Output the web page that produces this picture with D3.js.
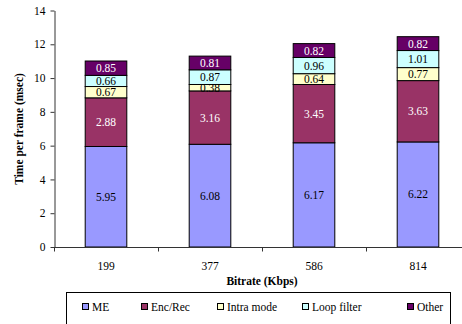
<!DOCTYPE html>
<html><head><meta charset="utf-8">
<script src="https://cdn.jsdelivr.net/npm/d3@7"></script>
<style>body{margin:0;background:#fff}svg{display:block}svg text{font-family:"Liberation Serif","Times New Roman",serif !important}</style>
</head><body><svg id="c" width="462" height="324"></svg>
<script>
const categories = ["199","377","586","814"];
const seriesNames = ["ME","Enc/Rec","Intra mode","Loop filter","Other"];
const me = [5.95,6.08,6.17,6.22];
const encRec = [2.88,3.16,3.45,3.63];
const intra = [0.67,0.38,0.64,0.77];
const loop = [0.66,0.87,0.96,1.01];
const other = [0.85,0.81,0.82,0.82];
const yTicks = [0,2,4,6,8,10,12,14];
const colors = ["#9999FF","#993366","#FFFFCC","#CCFFFF","#660066"];
const labelColors = ["#000","#fff","#000","#000","#fff"];

const seriesVals = [me,encRec,intra,loop,other];
const rows = categories.map((c,i)=>{const o={cat:c};seriesNames.forEach((s,j)=>o[s]=seriesVals[j][i]);return o;});
const stack = d3.stack().keys(seriesNames)(rows);

const svg = d3.select("#c");
const x = d3.scaleBand().domain(categories).range([54,470]).paddingInner(0.6).paddingOuter(0.3);
const y = d3.scaleLinear().domain([0,14]).range([247,10.5]);

stack.forEach((layer,j)=>{
  const g = svg.append("g");
  g.selectAll("rect").data(layer).join("rect")
    .attr("x",d=>x(d.data.cat)).attr("width",x.bandwidth())
    .attr("y",d=>y(d[1])).attr("height",d=>y(d[0])-y(d[1]))
    .attr("fill",colors[j]).attr("stroke","#000").attr("stroke-width",1);
  g.selectAll("text").data(layer).join("text")
    .attr("x",d=>x(d.data.cat)+x.bandwidth()/2)
    .attr("y",d=>(y(d[0])+y(d[1]))/2)
    .attr("dy","0.35em").attr("text-anchor","middle")
    .attr("font-family","Liberation Serif")
    .attr("font-size",11.5).attr("fill",labelColors[j])
    .text(d=>(d[1]-d[0]).toFixed(2));
});

const ya = svg.append("g").attr("transform","translate(54.5,0)")
  .call(d3.axisLeft(y).tickValues(yTicks).tickSize(4).tickSizeOuter(0).tickPadding(5));
ya.attr("font-family","Liberation Serif");
ya.selectAll("text").attr("font-size",11.5).attr("fill","#000");
ya.selectAll("line,path").attr("stroke","#333");

const xa = svg.append("g").attr("transform","translate(0,247.5)").attr("font-family","Liberation Serif");
xa.append("line").attr("x1",54).attr("x2",470).attr("stroke","#333");
const bounds = categories.map((c,i)=>54 + i*(416/categories.length));
xa.selectAll(".t").data(bounds).join("line").attr("x1",d=>d+0.5).attr("x2",d=>d+0.5).attr("y1",0).attr("y2",4).attr("stroke","#333");
xa.selectAll("text").data(categories).join("text")
  .attr("x",d=>x(d)+x.bandwidth()/2).attr("y",22).attr("text-anchor","middle")
  .attr("font-size",11.5).text(d=>d);

svg.append("text").attr("x",262).attr("y",285).attr("text-anchor","middle").attr("font-family","Liberation Serif")
  .attr("font-size",11.5).attr("font-weight","bold").text("Bitrate (Kbps)");
svg.append("text").attr("transform","translate(23,129) rotate(-90)").attr("text-anchor","middle").attr("font-family","Liberation Serif")
  .attr("font-size",11.5).attr("font-weight","bold").text("Time per frame (msec)");

svg.append("rect").attr("x",66.5).attr("y",292.5).attr("width",384).attr("height",40)
  .attr("fill","#fff").attr("stroke","#000");
const lx = [82,141,217,302,407];
const lg = svg.selectAll(".lg").data(seriesNames).join("g").attr("transform",(d,i)=>`translate(${lx[i]},307)`);
lg.append("rect").attr("x",0.5).attr("y",-3.5).attr("width",6).attr("height",6).attr("fill",(d,i)=>colors[i]).attr("stroke","#000");
lg.append("text").attr("x",10).attr("y",0).attr("dy","0.35em").attr("font-family","Liberation Serif").attr("font-size",11.5).text(d=>d);
</script></body></html>
